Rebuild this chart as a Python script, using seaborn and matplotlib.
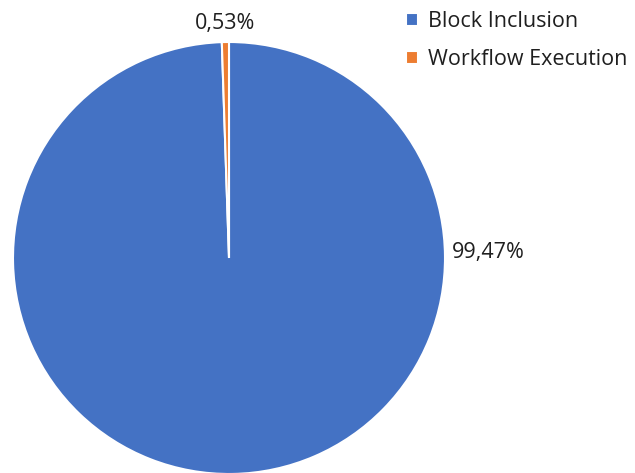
import matplotlib
matplotlib.use('Agg')
import matplotlib.pyplot as plt
import seaborn as sns
import numpy as np

# Daten
categories = ['Block Inclusion', 'Workflow Execution']
shares = [99.47, 0.53]
colors = ['#4472C4', '#ED7D31']

# Beschriftungsposition (Winkel in Grad, None = Mitte des Segments; Abstand)
label_angle = [1.3, None]
label_dist = [1.20, 1.085]

sns.set_style('white')
plt.rcParams['font.family'] = ['Open Sans', 'DejaVu Sans']

W, H = 635, 473
fig = plt.figure(figsize=(W / 100, H / 100), dpi=100)

# Kreis in Pixeln: Mittelpunkt (229, 258), Radius 216
cx, cy, r = 229, 258, 216
ax = fig.add_axes([(cx - r) / W, (H - cy - r) / H, 2 * r / W, 2 * r / H])

wedges = ax.pie(shares, colors=colors, startangle=90, counterclock=False,
                wedgeprops=dict(edgecolor='white', linewidth=1.5), radius=1)[0]
ax.set_xlim(-1, 1)
ax.set_ylim(-1, 1)
ax.set_aspect('equal')
ax.axis('off')

# Prozentwerte ausserhalb
for w, val, a, d in zip(wedges, shares, label_angle, label_dist):
    if a is None:
        a = (w.theta1 + w.theta2) / 2
    ang = np.deg2rad(a)
    txt = '{:.2f}%'.format(val).replace('.', ',')
    ax.text(d * np.cos(ang), d * np.sin(ang), txt, ha='center', va='center',
            fontsize=15.5, color='#1f1f1f', clip_on=False)

fig.legend(wedges, categories, loc='upper left', bbox_to_anchor=(396 / W, 1 - 1 / H),
           frameon=False, fontsize=15.5, handlelength=0.55, handleheight=0.55,
           handletextpad=0.5, labelspacing=0.79, labelcolor='#1f1f1f',
           borderaxespad=0.05)

plt.savefig('out.png', dpi=100)
